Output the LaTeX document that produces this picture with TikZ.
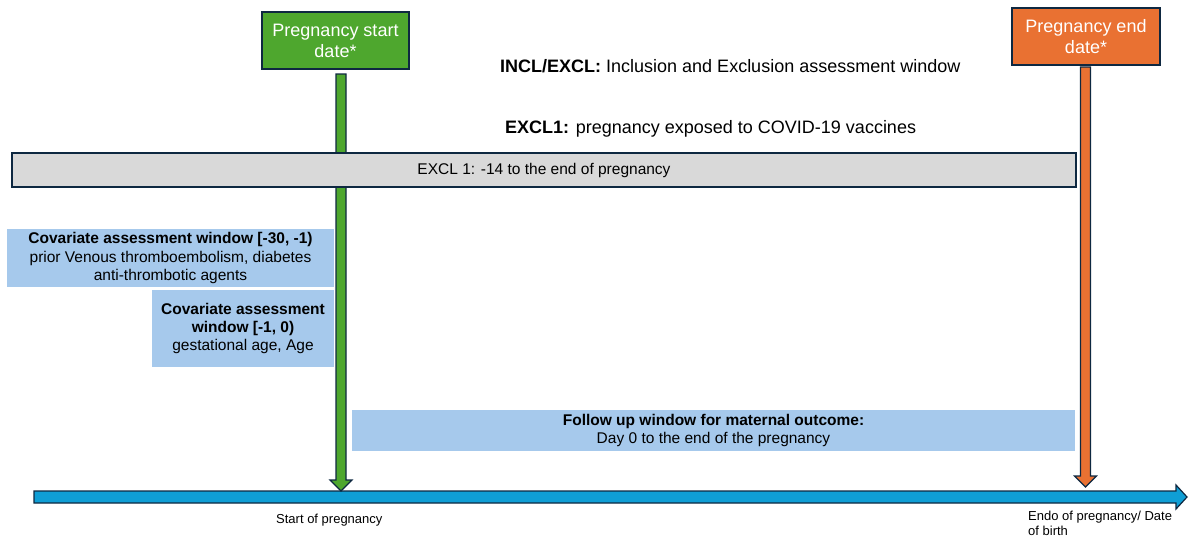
\documentclass[tikz,border=0pt]{standalone}
\usepackage{fontspec}
\setmainfont{Liberation Sans}
\usetikzlibrary{calc}
\definecolor{navy}{HTML}{0E2841}
\definecolor{pgreen}{HTML}{4EA72E}
\definecolor{porange}{HTML}{E97132}
\definecolor{pblue}{HTML}{0F9ED5}
\definecolor{winblue}{HTML}{A6C9EC}
\definecolor{exclgray}{HTML}{D9D9D9}
\begin{document}
\begin{tikzpicture}[x=1pt,y=-1pt,
  datebox/.style={draw=navy, line width=1.5pt, text=white, align=center,
    font=\fontsize{18}{21}\selectfont, inner sep=0pt, minimum height=57pt},
  winbox/.style={fill=winblue, align=center, inner sep=0pt,
    font=\fontsize{15.5}{18.3}\selectfont},
  exclbox/.style={draw=navy, line width=1.5pt, fill=exclgray, inner sep=0pt,
    font=\fontsize{15.5}{18.3}\selectfont},
  note/.style={inner sep=0pt, font=\fontsize{18}{21}\selectfont},
  tick/.style={inner sep=0pt, align=left, font=\fontsize{13}{15}\selectfont},
  fatarrow/.style={draw=navy, line width=1.2pt, line join=miter}
]
\useasboundingbox (0,0) rectangle (1188,539);

% time line
\coordinate (tl0) at (34,497);
\coordinate (tl1) at (1187,497);
\draw[fatarrow, fill=pblue]
  ($(tl0)+(0,-6)$) -- ($(tl1)+(-11,-6)$) -- ($(tl1)+(-11,-12)$) -- (tl1)
  -- ($(tl1)+(-11,12)$) -- ($(tl1)+(-11,6)$) -- ($(tl0)+(0,6)$) -- cycle;

% date markers
\node[datebox, fill=pgreen, minimum width=147pt] (gbox) at (335.5,40.5)
  {Pregnancy start\\date*};
\node[datebox, fill=porange, minimum width=148pt] (obox) at (1086,36.3)
  {Pregnancy end\\date*};

\coordinate (gs) at (341,74);
\coordinate (gt) at (341,491);
\draw[fatarrow, fill=pgreen]
  ($(gs)+(-5,0)$) -- ($(gt)+(-5,-11)$) -- ($(gt)+(-11,-11)$) -- (gt)
  -- ($(gt)+(11,-11)$) -- ($(gt)+(5,-11)$) -- ($(gs)+(5,0)$) -- cycle;

\coordinate (os) at (1085.5,67);
\coordinate (ot) at (1085.5,487);
\draw[fatarrow, fill=porange]
  ($(os)+(-5,0)$) -- ($(ot)+(-5,-11)$) -- ($(ot)+(-11,-11)$) -- (ot)
  -- ($(ot)+(11,-11)$) -- ($(ot)+(5,-11)$) -- ($(os)+(5,0)$) -- cycle;

% headings
\node[note, anchor=west] (incl) at (500,66)
  {\textbf{INCL/EXCL:} Inclusion and Exclusion assessment window};
\node[note, anchor=west] (excl) at (505,129)
  {\textbf{EXCL1:} pregnancy exposed to COVID-19 vaccines};

% windows
\node[exclbox, minimum width=1064pt, minimum height=34pt] (ex1) at (544,170)
  {EXCL 1: -14 to the end of pregnancy};

\node[winbox, minimum width=327pt, minimum height=58pt] (cov1) at (170.5,258)
  {\textbf{Covariate assessment window [-30, -1)}\\
   prior Venous thromboembolism, diabetes\\
   anti-thrombotic agents};
\node[winbox, minimum width=182pt, minimum height=77pt] (cov2) at (243,328.5)
  {\textbf{Covariate assessment}\\\textbf{window [-1, 0)}\\gestational age, Age};
\node[winbox, minimum width=723pt, minimum height=41pt] (fup) at (713.5,430.3)
  {\textbf{Follow up window for maternal outcome:}\\
   Day 0 to the end of the pregnancy};

% time line labels
\node[tick, anchor=west] (lstart) at (276,520) {Start of pregnancy};
\node[tick, anchor=north west] (lend) at (1028,511)
  {Endo of pregnancy/ Date\\of birth};
\end{tikzpicture}
\end{document}
